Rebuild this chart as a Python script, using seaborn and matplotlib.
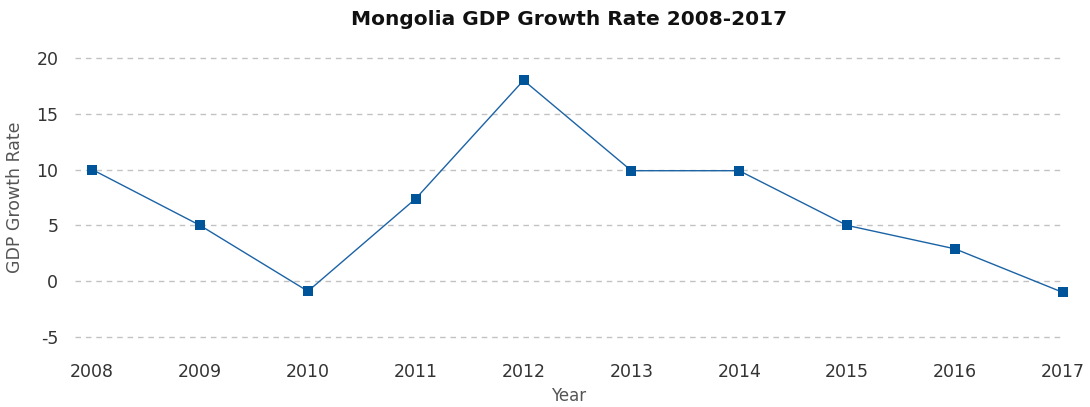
import matplotlib
matplotlib.use("Agg")
import matplotlib.pyplot as plt
import seaborn as sns
import pandas as pd

years = [2008, 2009, 2010, 2011, 2012, 2013, 2014, 2015, 2016, 2017]
growth = [10.0, 5.0, -0.9, 7.4, 18.0, 9.9, 9.9, 5.0, 2.9, -1.0]
yticks = [-5, 0, 5, 10, 15, 20]

df = pd.DataFrame({"Year": years, "GDP Growth Rate": growth})

sns.set_theme(style="white")
plt.rcParams["font.family"] = ["DejaVu Sans"]

fig = plt.figure(figsize=(10.9, 4.07), dpi=100)
ax = fig.add_axes([0.0688, 0.172, 0.9062, 0.6855])

sns.lineplot(data=df, x="Year", y="GDP Growth Rate", ax=ax,
             color="#1b63a5", linewidth=1.0, marker="s", markersize=7,
             markerfacecolor="#00549a", markeredgecolor="#00549a",
             markeredgewidth=0, clip_on=False, zorder=3)

ax.set_xlim(2007.84, 2017.0)
ax.set_ylim(-5, 20)
ax.set_yticks(yticks)
ax.set_yticklabels([str(t) for t in yticks])
ax.set_xticks(years)
ax.set_xticklabels([str(y) for y in years])

for t in yticks:
    ax.axhline(t, color="#c2c2c2", linestyle=(0, (4, 3.5)), linewidth=1.0,
               zorder=1, clip_on=False)

for s in ax.spines.values():
    s.set_visible(False)

ax.tick_params(axis="x", length=0, pad=19, labelsize=12.5, labelcolor="#333333")
ax.tick_params(axis="y", length=0, pad=12, labelsize=12.5, labelcolor="#333333")

ax.set_xlabel("Year", fontsize=12, color="#555555", labelpad=4)
ax.set_ylabel("GDP Growth Rate", fontsize=12.5, color="#555555", labelpad=9)
ax.set_title("Mongolia GDP Growth Rate 2008-2017", fontsize=14.5,
             fontweight="bold", color="#111111", pad=24)

fig.savefig("out.png", dpi=100)
